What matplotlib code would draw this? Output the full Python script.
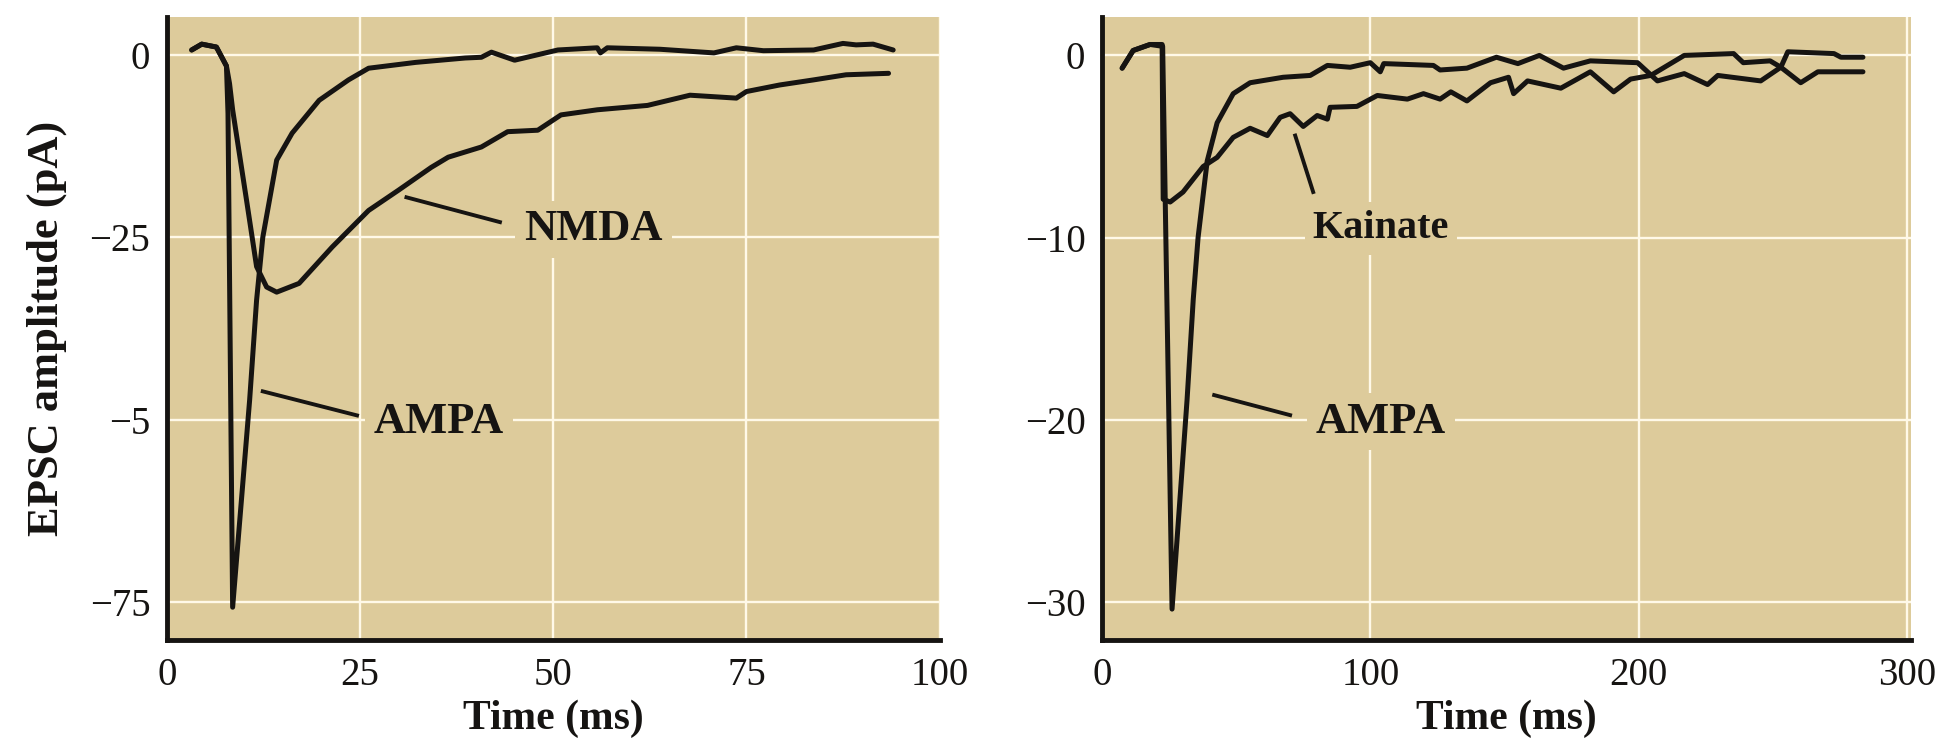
import matplotlib.pyplot as plt

# left panel (0-100 ms)
left_t_ampa = [3.2, 4.5, 6.4, 7.7, 7.9, 8.5, 10.7, 11.6, 12.4, 14.2, 16.2, 19.7, 23.5, 26.1, 32.2,
               38.6, 40.7, 42.0, 45.0, 50.6, 55.7, 56.1, 57.0, 63.8, 70.8, 73.7, 77.2, 83.7, 87.5,
               89.2, 91.4, 94.0]
left_y_ampa = [0.7, 1.5, 1.1, -1.5, -8.0, -75.7, -47.3, -33.6, -25.0, -14.4, -10.7, -6.2, -3.4, -1.8, -1.0,
               -0.4, -0.3, 0.4, -0.7, 0.7, 1.0, 0.3, 1.0, 0.8, 0.3, 1.0, 0.6, 0.7, 1.6,
               1.4, 1.5, 0.7]
left_t_nmda = [3.2, 4.5, 6.4, 7.7, 8.1, 8.5, 10.3, 11.6, 12.9, 14.2, 17.1, 21.4, 26.1, 30.0, 34.2,
               36.4, 40.7, 44.1, 48.0, 51.0, 55.7, 62.2, 67.7, 73.7, 75.0, 79.3, 83.7, 87.9, 93.4]
left_y_nmda = [0.7, 1.5, 1.1, -1.5, -3.9, -7.5, -19.9, -29.0, -31.8, -32.5, -31.3, -26.3, -21.3, -18.5, -15.4,
               -14.0, -12.6, -10.5, -10.3, -8.2, -7.5, -6.9, -5.5, -5.9, -5.0, -4.1, -3.4, -2.7, -2.5]

# right panel (0-300 ms)
right_t_ampa = [7.5, 11.6, 17.9, 22.6, 26.1, 31.7, 34.0, 35.8, 39.2, 42.9, 48.9, 55.2, 67.5, 77.6, 84.0,
                92.5, 100, 103.7, 105, 123.5, 126, 136, 147, 155, 163, 172, 182, 199.6, 207, 217,
                225.7, 229.5, 245.5, 253, 255.6, 272.8, 275.4, 283.6]
right_y_ampa = [-0.7, 0.27, 0.6, 0.5, -30.4, -18.9, -13.4, -10.0, -5.8, -3.7, -2.1, -1.5, -1.2, -1.1, -0.55,
                -0.65, -0.4, -0.9, -0.45, -0.55, -0.8, -0.7, -0.1, -0.45, 0.0, -0.7, -0.3, -0.4, -1.4, -1.0,
                -1.6, -1.1, -1.4, -0.65, 0.2, 0.1, -0.1, -0.1]
right_t_kain = [7.5, 11.6, 17.9, 22.4, 22.8, 25.4, 30.2, 37.7, 42.9, 48.9, 55.2, 61.6, 66.4, 70.1, 75.0,
                80.2, 84.0, 85.0, 95.0, 102.6, 113.8, 119.8, 126.0, 130.0, 136.0, 144.8, 151.5, 153.4,
                158.6, 171, 182, 190.7, 197, 204.5, 217, 235.4, 239, 249, 253, 260.4, 266.8, 283.6]
right_y_kain = [-0.7, 0.27, 0.6, 0.6, -7.9, -8.05, -7.5, -6.1, -5.6, -4.5, -4.0, -4.4, -3.4, -3.2, -3.9,
                -3.3, -3.5, -2.85, -2.8, -2.2, -2.4, -2.1, -2.4, -2.0, -2.5, -1.5, -1.2, -2.1,
                -1.4, -1.8, -0.9, -2.0, -1.3, -1.1, 0.0, 0.1, -0.4, -0.3, -0.65, -1.5, -0.9, -0.9]

left_xticks = [0, 25, 50, 75, 100]
left_yticks = [0, -25, -50, -75]
left_ylabels = ['0', '\u221225', '\u22125', '\u221275']
right_xticks = [0, 100, 200, 300]
right_yticks = [0, -10, -20, -30]
right_ylabels = ['0', '\u221210', '\u221220', '\u221230']

tan = '#DDCB9B'
grid_c = '#FFF9E8'
ink = '#161412'

plt.rcParams['font.family'] = ['Liberation Serif', 'DejaVu Serif']

fig = plt.figure(figsize=(19.46, 7.46), dpi=100)
ax1 = fig.add_axes([0.0858, 0.142, 0.397, 0.835])
ax2 = fig.add_axes([0.5663, 0.142, 0.4157, 0.835])


def style(ax, xticks, yticks, ylabels, xlim, ylim):
    ax.set_facecolor(tan)
    ax.set_xlim(xlim)
    ax.set_ylim(ylim)
    ax.set_xticks(xticks)
    ax.set_yticks(yticks)
    ax.set_yticklabels(ylabels)
    ax.set_axisbelow(True)
    ax.grid(True, color=grid_c, lw=1.7)
    for s in ['top', 'right']:
        ax.spines[s].set_visible(False)
    for s in ['left', 'bottom']:
        ax.spines[s].set_linewidth(3.5)
        ax.spines[s].set_color(ink)
    ax.tick_params(length=0, labelsize=28, pad=12, colors=ink)
    ax.set_xlabel('Time (ms)', fontsize=30, fontweight='bold', color=ink, labelpad=4)


style(ax1, left_xticks, left_yticks, left_ylabels, (0, 99.5), (-80.2, 5.2))
style(ax2, right_xticks, right_yticks, right_ylabels, (0, 301.5), (-32.1, 2.1))
ax1.set_ylabel('EPSC amplitude (pA)', fontsize=32, fontweight='bold', color=ink, labelpad=16)

kw = dict(color=ink, lw=3.6, solid_joinstyle='round', solid_capstyle='round', zorder=3)
ax1.plot(left_t_ampa, left_y_ampa, **kw)
ax1.plot(left_t_nmda, left_y_nmda, **kw)
ax2.plot(right_t_ampa, right_y_ampa, **kw)
ax2.plot(right_t_kain, right_y_kain, **kw)

box = dict(boxstyle='square,pad=0.2', fc=tan, ec='none')
lead = dict(color=ink, lw=2.8, zorder=3)

# leader lines and labels
ax1.plot([31.0, 43.1], [-19.5, -22.9], **lead)
ax1.text(55.2, -23.9, 'NMDA', fontsize=32, fontweight='bold', ha='center', va='center',
         color=ink, bbox=box, zorder=4)
ax1.plot([12.4, 24.6], [-46.1, -49.4], **lead)
ax1.text(35.2, -50.3, 'AMPA', fontsize=32, fontweight='bold', ha='center', va='center',
         color=ink, bbox=box, zorder=4)

ax2.plot([72.0, 78.7], [-4.4, -7.5], **lead)
ax2.text(104, -9.5, 'Kainate', fontsize=29, fontweight='bold', ha='center', va='center',
         color=ink, bbox=box, zorder=4)
ax2.plot([41.8, 70.1], [-18.65, -19.75], **lead)
ax2.text(104, -20.1, 'AMPA', fontsize=32, fontweight='bold', ha='center', va='center',
         color=ink, bbox=box, zorder=4)

fig.savefig('out.png', dpi=100, facecolor='white')
